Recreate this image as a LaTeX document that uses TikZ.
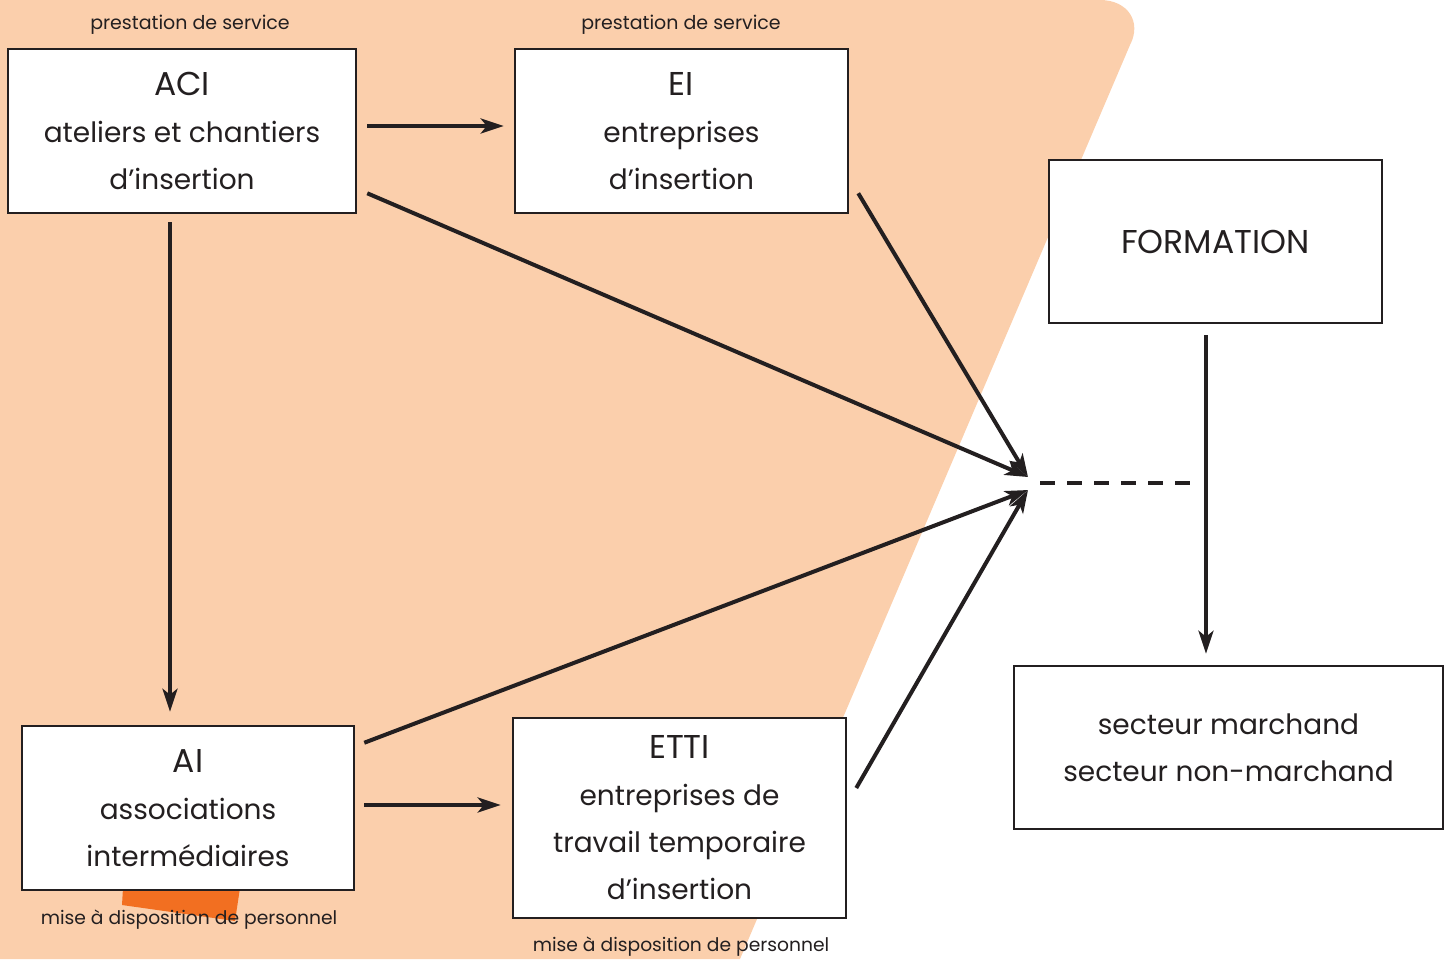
\documentclass[tikz,border=0pt]{standalone}
\usepackage{fontspec}
\setmainfont{Poppins}
\usetikzlibrary{arrows.meta}
\definecolor{peach}{HTML}{FBCFAC}
\definecolor{dorange}{HTML}{F26F21}
\definecolor{ink}{HTML}{231F20}
\newcommand\boxtitle[1]{{\fontsize{33}{47}\selectfont #1}}
\begin{document}
\begin{tikzpicture}[x=1pt,y=-1pt,
  box/.style={draw=ink,line width=2.5pt,fill=white,inner sep=0pt,align=center,text=ink,
    font=\fontsize{28}{47}\selectfont},
  lab/.style={text=ink,font=\fontsize{19}{22}\selectfont,inner sep=0pt},
  arr/.style={draw=ink,line width=4pt,-{Stealth[length=23pt,width=15pt,inset=6pt]}}]
\useasboundingbox (0,0) rectangle (1450,959);
\fill[peach] (0,0) -- (1100,0) .. controls (1128,0) and (1142,22) .. (1130,45) -- (740,959) -- (0,959) -- cycle;
\fill[dorange] (123,888) -- (240,888) -- (235,921) -- (122,905) -- cycle;

\node[box,minimum width=348,minimum height=164] (aci) at (182,131) {\boxtitle{ACI}\\ateliers et chantiers\\d’insertion};
\node[box,minimum width=333,minimum height=164] (ei) at (681.5,131) {\boxtitle{EI}\\entreprises\\d’insertion};
\node[box,minimum width=333,minimum height=163] (form) at (1215.5,241.5) {\boxtitle{FORMATION}};
\node[box,minimum width=332,minimum height=164] (ai) at (188,808) {\boxtitle{AI}\\associations\\intermédiaires};
\node[box,minimum width=333,minimum height=200] (etti) at (679.5,818) {\boxtitle{ETTI}\\entreprises de\\travail temporaire\\d’insertion};
\node[box,minimum width=429,minimum height=163] (sect) at (1228.5,747.5) {secteur marchand\\secteur non-marchand};

\node[lab] (l1) at (190,25) {prestation de service};
\node[lab] (l2) at (681,25) {prestation de service};
\node[lab] (l3) at (189,920) {\fontsize{18.7}{22}\selectfont mise à disposition de personnel};
\node[lab] (l4) at (681,947) {\fontsize{18.7}{22}\selectfont mise à disposition de personnel};

\coordinate (hubT) at (1028,477);
\coordinate (hubB) at (1028,490);
\coordinate (hub) at (1040,483);
\coordinate (junc) at (1195,483);

\draw[arr] ([shift={(10,-5)}]aci.east) -- ([shift={(-10,-5)}]ei.west);
\draw[arr] ([shift={(10,-21)}]aci.south east) -- (hubT);
\draw[arr] ([shift={(9,-21)}]ei.south east) -- (hubT);
\draw[arr] ([shift={(-12,8)}]aci.south) -- ([shift={(-18,-13)}]ai.north);
\draw[arr] ([shift={(9,18)}]ai.north east) -- (hubB);
\draw[arr] ([shift={(9,-3)}]ai.east) -- ([shift={(-11,-13)}]etti.west);
\draw[arr] ([shift={(9,-30)}]etti.east) -- (hubB);
\draw[arr] ([shift={(-9.5,11)}]form.south) -- ([shift={(-22.5,-11)}]sect.north);
\draw[draw=ink,line width=4pt,dash pattern=on 15pt off 12pt] (hub) -- (junc);
\end{tikzpicture}
\end{document}
